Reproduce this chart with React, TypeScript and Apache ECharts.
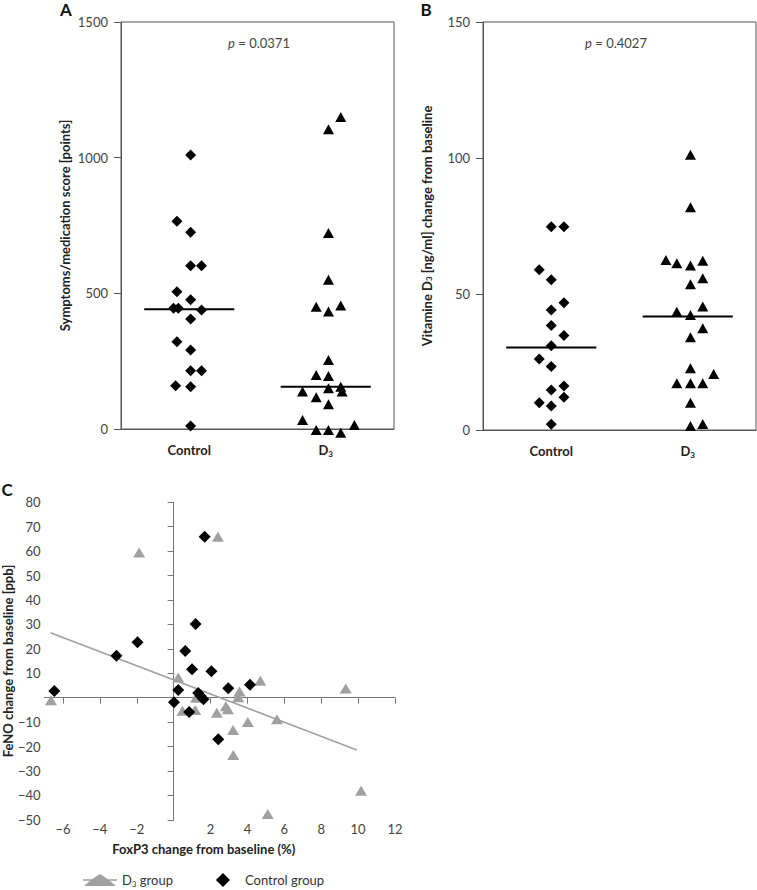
import React, { useEffect, useRef } from "react";
import * as echarts from "echarts";

// ---------- Data ----------
const categories = ["Control", "D3"];

// Panel A: symptoms/medication score [points]
const scoreControl = [1010, 766, 725, 602, 602, 506, 476, 445, 445, 439, 405, 322, 291, 215, 215, 159, 156, 11];
const scoreControlJitter = [0.01, -0.09, 0.01, 0.01, 0.09, -0.09, 0.01, -0.115, -0.08, 0.09, 0.01, -0.09, 0.01, 0.01, 0.09, -0.1, 0.01, 0.01];
const scoreD3 = [1150, 1105, 722, 550, 455, 451, 433, 254, 199, 195, 156, 150, 138, 138, 117, 91, 33, 15, -4, -4, -14];
const scoreD3Jitter = [0.11, 0.02, 0.02, 0.02, 0.11, -0.07, 0.02, 0.02, -0.07, 0.02, 0.11, 0.02, -0.17, 0.12, -0.07, 0.02, -0.17, 0.21, -0.07, 0.02, 0.11];
const scoreMedians = [441, 156];
const pValueA = "0.0371";

// Panel B: vitamin D3 change from baseline [ng/ml]
const vitControl = [74.7, 74.7, 58.9, 55.2, 46.8, 44.1, 38.4, 34.7, 31.0, 26.1, 23.3, 16.2, 14.7, 12.0, 10.0, 8.8, 2.1];
const vitControlJitter = [0.0, 0.093, -0.088, 0.0, 0.093, 0.0, 0.0, 0.093, 0.0, -0.088, 0.0, 0.093, 0.0, 0.093, -0.088, 0.0, 0.0];
const vitD3 = [101.2, 81.9, 62.5, 61.3, 60.5, 62.2, 55.8, 53.6, 45.4, 43.5, 42.3, 37.4, 34.1, 22.7, 20.6, 17.2, 17.2, 17.2, 10.0, 1.5, 2.2];
const vitD3Jitter = [0.02, 0.02, -0.16, -0.08, 0.02, 0.11, 0.11, 0.02, 0.11, -0.08, 0.02, 0.11, 0.02, 0.02, 0.19, -0.08, 0.02, 0.11, 0.02, 0.02, 0.11];
const vitMedians = [30.3, 41.7];
const pValueB = "0.4027";

// Panel C: FoxP3 change (%) vs FeNO change (ppb)
const foxD3X = [-6.65, -1.87, 2.4, 0.25, 4.7, 9.33, 3.57, 3.5, 1.21, 0.48, 1.17, 2.34, 2.83, 2.94, 4.02, 5.6, 3.22, 3.23, 5.1, 10.16];
const fenoD3Y = [-1.0, 59.4, 65.9, 8.3, 6.9, 3.8, 2.5, 0.2, 0.0, -5.3, -5.0, -6.2, -3.5, -4.7, -10.0, -8.8, -13.2, -23.5, -47.6, -38.1];
const foxCtrlX = [-6.47, -3.1, -1.96, 1.68, 1.19, 0.63, 1.0, 2.05, 0.25, 0.02, 0.84, 1.33, 1.46, 1.62, 2.96, 4.14, 2.42];
const fenoCtrlY = [2.7, 17.2, 22.7, 65.9, 30.2, 19.1, 11.6, 10.8, 3.1, -1.9, -5.9, 1.9, 0.7, -0.6, 3.9, 5.3, -17.0];
const trendX = [-6.68, 9.93];
const trendY = [26.6, -21.4];
const foxLabelValues = [-6, -4, -2, 2, 4, 6, 8, 10, 12];
const fenoLabelValues = [-50, -40, -30, -20, -10, 10, 20, 30, 40, 50, 60, 70, 80];

// ---------- Styling ----------
const FONT = "Lato, 'Noto Sans', sans-serif";
const FRAME = "#555";
const LABEL = "#444";
const DARK = "#222";
const GRAY_MARK = "#a0a0a0";

const subRich = (size: number, weight: any, color: string) => ({
  n: { fontSize: size, fontWeight: weight, color, fontFamily: FONT, lineHeight: size + 3 },
  s: { fontSize: Math.round(size * 0.6), fontWeight: weight, color, fontFamily: FONT, lineHeight: 7, verticalAlign: "bottom" },
});

const catFormatter = (v: string) => (v === "D3" ? "{n|D}{s|3}" : "{n|" + v + "}");

const pair = (xs: number[], ys: number[]) => xs.map((x, i) => [x, ys[i]]);
const jittered = (vals: number[], jit: number[], idx: number) => vals.map((v, i) => [idx + jit[i], v]);
const medianSeg = (m: number, idx: number) => [
  [idx - 0.33, m],
  [idx + 0.33, m],
];
const minusFmt = (v: number) => String(v).replace("-", "\u2212");
const plainFmt = (v: number) => String(v);

const catAxis = (gridIndex: number) => ({
  gridIndex,
  type: "category",
  data: categories,
  boundaryGap: true,
  axisLine: { onZero: false, lineStyle: { color: FRAME, width: 1 } },
  axisTick: { alignWithLabel: true, length: 6, lineStyle: { color: FRAME } },
  axisLabel: { margin: 13, formatter: catFormatter, rich: subRich(13, "bold", DARK) },
  splitLine: { show: false },
});
const hiddenVal = (gridIndex: number) => ({
  gridIndex,
  type: "value",
  min: -0.5,
  max: 1.5,
  show: false,
  splitLine: { show: false },
});
const leftValAxis = (gridIndex: number, max: number, interval: number, name: string) => ({
  gridIndex,
  type: "value",
  min: 0,
  max,
  interval,
  axisLine: { show: true, onZero: false, lineStyle: { color: FRAME, width: 1 } },
  axisTick: { show: true, length: 7, lineStyle: { color: FRAME } },
  axisLabel: { margin: 13, color: LABEL, fontSize: 13, fontFamily: FONT, formatter: plainFmt },
  splitLine: { show: false },
  name,
  nameLocation: "middle",
  nameGap: 50,
  nameTextStyle: { fontSize: 13, fontWeight: "bold", color: DARK, fontFamily: FONT, rich: subRich(13, "bold", DARK) },
});

// Legend icons span the whole 34x14 item box so they are not stretched
const D3_ICON = "path://M0,7 L0,7.01 Z M0,6.25 L9,6.25 L17,1 L25,6.25 L34,6.25 L34,7.75 L26.9,7.75 L33,13 L1,13 L7.1,7.75 L0,7.75 Z M0,0 L0,0.01 Z M0,14 L0,14.01 Z";
const CTRL_ICON = "path://M0,7 L0,7.01 Z M34,7 L34,7.01 Z M17,0 L24,7 L17,14 L10,7 Z";

const markStyle = (color: string) => ({ color, opacity: 1 });

const option: any = {
  animation: false,
  textStyle: { fontFamily: FONT },
  grid: [
    { left: 121, top: 22, width: 273, height: 407, show: true, borderColor: FRAME, borderWidth: 1 },
    { left: 483, top: 22, width: 273, height: 408, show: true, borderColor: FRAME, borderWidth: 1 },
    { left: 43.5, top: 502.3, width: 351.5, height: 317.5 },
  ],
  xAxis: [
    catAxis(0),
    hiddenVal(0),
    catAxis(1),
    hiddenVal(1),
    {
      gridIndex: 2,
      type: "value",
      min: -7,
      max: 12,
      axisLine: { onZero: true, onZeroAxisIndex: 2, lineStyle: { color: "#777", width: 1 } },
      axisTick: { show: true, customValues: foxLabelValues, length: 6, lineStyle: { color: "#777" } },
      axisLabel: { show: false },
      splitLine: { show: false },
    },
    {
      gridIndex: 2,
      type: "value",
      min: -7,
      max: 12,
      position: "bottom",
      axisLine: { show: false, onZero: false },
      axisTick: { show: false },
      axisLabel: { customValues: foxLabelValues, formatter: minusFmt, margin: 3, color: LABEL, fontSize: 13, fontFamily: FONT },
      splitLine: { show: false },
      name: "FoxP3 change from baseline (%)",
      nameLocation: "middle",
      nameGap: 23,
      nameTextStyle: { fontSize: 13, fontWeight: "bold", color: DARK, fontFamily: FONT, padding: [0, 32, 0, 0] },
    },
  ],
  yAxis: [
    leftValAxis(0, 1500, 500, "Symptoms/medication score [points]"),
    leftValAxis(1, 150, 50, "Vitamine D{s|3} [ng/ml] change from baseline"),
    {
      gridIndex: 2,
      type: "value",
      min: -50,
      max: 80,
      interval: 10,
      axisLine: { onZero: true, onZeroAxisIndex: 4, lineStyle: { color: "#777", width: 1 } },
      axisTick: { show: true, length: 6, lineStyle: { color: "#777" } },
      axisLabel: { show: false },
      splitLine: { show: false },
    },
    {
      gridIndex: 2,
      type: "value",
      min: -50,
      max: 80,
      interval: 10,
      position: "left",
      axisLine: { show: false, onZero: false },
      axisTick: { show: false },
      axisLabel: { customValues: fenoLabelValues, formatter: minusFmt, margin: 4, color: LABEL, fontSize: 13, fontFamily: FONT },
      splitLine: { show: false },
      name: "FeNO change from baseline [ppb]",
      nameLocation: "middle",
      nameGap: 29,
      nameTextStyle: { fontSize: 13, fontWeight: "bold", color: DARK, fontFamily: FONT },
    },
  ],
  legend: {
    left: 83,
    top: 873,
    padding: 0,
    itemWidth: 34,
    itemHeight: 14,
    itemGap: 33,
    data: [
      { name: "D3 group", icon: D3_ICON },
      { name: "Control group", icon: CTRL_ICON },
    ],
    formatter: (name: string) => (name === "D3 group" ? "{n|D}{s|3}{n| group}" : "{n|" + name + "}"),
    textStyle: { fontSize: 13, color: "#333", fontFamily: FONT, rich: subRich(13, "normal", "#333") },
  },
  series: [
    // Panel A
    {
      name: "A Control",
      type: "scatter",
      xAxisIndex: 1,
      yAxisIndex: 0,
      clip: false,
      symbol: "diamond",
      symbolSize: 11,
      itemStyle: markStyle("#000"),
      data: jittered(scoreControl, scoreControlJitter, 0),
    },
    {
      name: "A D3",
      type: "scatter",
      xAxisIndex: 1,
      yAxisIndex: 0,
      clip: false,
      symbol: "triangle",
      symbolSize: [11, 10],
      itemStyle: markStyle("#000"),
      data: jittered(scoreD3, scoreD3Jitter, 1),
    },
    ...scoreMedians.map((m, i) => ({
      name: "A median " + categories[i],
      type: "line",
      xAxisIndex: 1,
      yAxisIndex: 0,
      symbol: "none",
      lineStyle: { color: "#000", width: 2 },
      data: medianSeg(m, i),
      z: 3,
    })),
    // Panel B
    {
      name: "B Control",
      type: "scatter",
      xAxisIndex: 3,
      yAxisIndex: 1,
      clip: false,
      symbol: "diamond",
      symbolSize: 11,
      itemStyle: markStyle("#000"),
      data: jittered(vitControl, vitControlJitter, 0),
    },
    {
      name: "B D3",
      type: "scatter",
      xAxisIndex: 3,
      yAxisIndex: 1,
      clip: false,
      symbol: "triangle",
      symbolSize: [11, 10],
      itemStyle: markStyle("#000"),
      data: jittered(vitD3, vitD3Jitter, 1),
    },
    ...vitMedians.map((m, i) => ({
      name: "B median " + categories[i],
      type: "line",
      xAxisIndex: 3,
      yAxisIndex: 1,
      symbol: "none",
      lineStyle: { color: "#000", width: 2 },
      data: medianSeg(m, i),
      z: 3,
    })),
    // Panel C
    {
      name: "D3 group",
      type: "scatter",
      xAxisIndex: 4,
      yAxisIndex: 2,
      clip: false,
      symbol: "triangle",
      symbolSize: [12, 10],
      itemStyle: markStyle(GRAY_MARK),
      data: pair(foxD3X, fenoD3Y),
    },
    {
      name: "Control group",
      type: "scatter",
      xAxisIndex: 4,
      yAxisIndex: 2,
      clip: false,
      symbol: "diamond",
      symbolSize: 12,
      itemStyle: markStyle("#000"),
      data: pair(foxCtrlX, fenoCtrlY),
    },
    {
      name: "D3 trend",
      type: "line",
      xAxisIndex: 4,
      yAxisIndex: 2,
      symbol: "none",
      lineStyle: { color: GRAY_MARK, width: 1.5 },
      data: pair(trendX, trendY),
      z: 1,
    },
  ],
  graphic: [
    { type: "text", x: 66, y: 9, style: { text: "A", fontSize: 17, fontWeight: "bold", fill: "#111", fontFamily: FONT, align: "center", verticalAlign: "middle" } },
    { type: "text", x: 426, y: 9, style: { text: "B", fontSize: 17, fontWeight: "bold", fill: "#111", fontFamily: FONT, align: "center", verticalAlign: "middle" } },
    { type: "text", x: 7, y: 489, style: { text: "C", fontSize: 17, fontWeight: "bold", fill: "#111", fontFamily: FONT, align: "center", verticalAlign: "middle" } },
    {
      type: "text",
      x: 259,
      y: 43,
      style: {
        text: "{i|p}{t| = " + pValueA + "}",
        align: "center",
        verticalAlign: "middle",
        rich: {
          i: { fontStyle: "italic", fontSize: 13, fill: LABEL, fontFamily: FONT },
          t: { fontSize: 13, fill: LABEL, fontFamily: FONT },
        },
      },
    },
    {
      type: "text",
      x: 616,
      y: 43,
      style: {
        text: "{i|p}{t| = " + pValueB + "}",
        align: "center",
        verticalAlign: "middle",
        rich: {
          i: { fontStyle: "italic", fontSize: 13, fill: LABEL, fontFamily: FONT },
          t: { fontSize: 13, fill: LABEL, fontFamily: FONT },
        },
      },
    },
  ],
};

export default function App() {
  const ref = useRef<HTMLDivElement>(null);
  useEffect(() => {
    const chart = echarts.init(ref.current as HTMLDivElement, null, { renderer: "svg" });
    chart.setOption(option);
    return () => chart.dispose();
  }, []);
  return <div ref={ref} style={{ position: "absolute", left: 0, top: 0, width: 757, height: 890 }} />;
}
